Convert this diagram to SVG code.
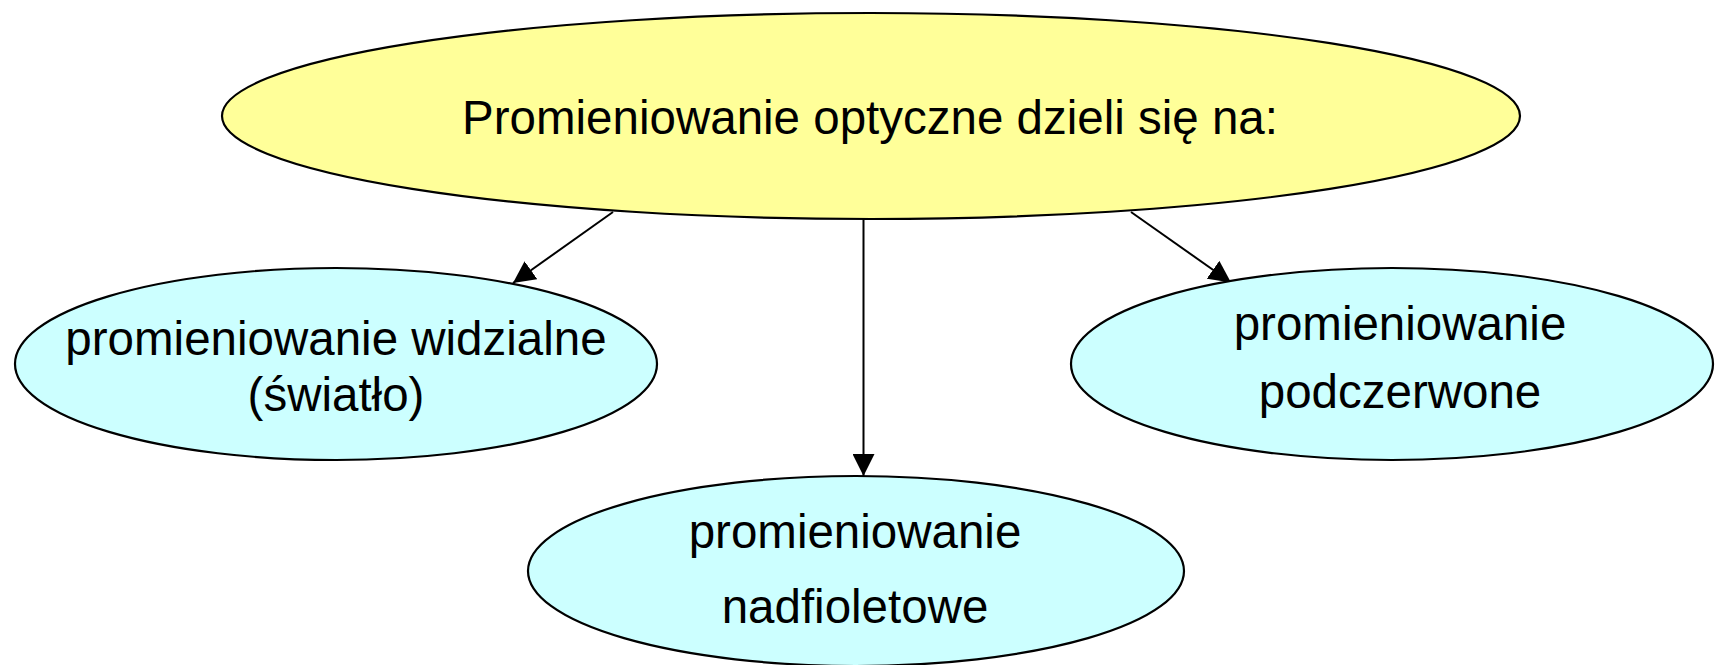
<svg xmlns="http://www.w3.org/2000/svg" width="1715" height="665" viewBox="0 0 1715 665">
  <style>
    .node { stroke: #000; stroke-width: 2.2; }
    .root { fill: #FFFF99; }
    .child { fill: #CCFFFF; }
    .lbl { font-family: "Liberation Sans", Arial, sans-serif; font-size: 47.5px; fill: #000; text-anchor: middle; }
    .edge { stroke: #000; stroke-width: 2; fill: none; marker-end: url(#arrow); }
  </style>
  <defs>
    <marker id="arrow" viewBox="0 0 22 22" refX="22" refY="11" markerWidth="22" markerHeight="22" markerUnits="userSpaceOnUse" orient="auto">
      <path d="M0,0 L22,11 L0,22 Z" fill="#000"/>
    </marker>
  </defs>
  <rect width="1715" height="665" fill="#fff"/>
  <g id="connectors">
    <line class="edge" x1="613" y1="212" x2="513" y2="283"/>
    <line class="edge" x1="863.5" y1="219" x2="863.5" y2="476"/>
    <line class="edge" x1="1131" y1="212" x2="1231" y2="282.5"/>
  </g>
  <g id="root">
    <ellipse class="node root" cx="871" cy="116" rx="649" ry="103"/>
    <text class="lbl" x="870" y="134">Promieniowanie optyczne dzieli się na:</text>
  </g>
  <g id="visible">
    <ellipse class="node child" cx="336" cy="364" rx="321" ry="96"/>
    <text class="lbl" x="336" y="355">promieniowanie widzialne</text>
    <text class="lbl" x="336" y="411">(światło)</text>
  </g>
  <g id="infrared">
    <ellipse class="node child" cx="1392" cy="364" rx="321" ry="96"/>
    <text class="lbl" x="1400" y="340">promieniowanie</text>
    <text class="lbl" x="1400" y="408">podczerwone</text>
  </g>
  <g id="ultraviolet">
    <ellipse class="node child" cx="856" cy="571" rx="328" ry="95"/>
    <text class="lbl" x="855" y="548">promieniowanie</text>
    <text class="lbl" x="855" y="623">nadfioletowe</text>
  </g>
</svg>
